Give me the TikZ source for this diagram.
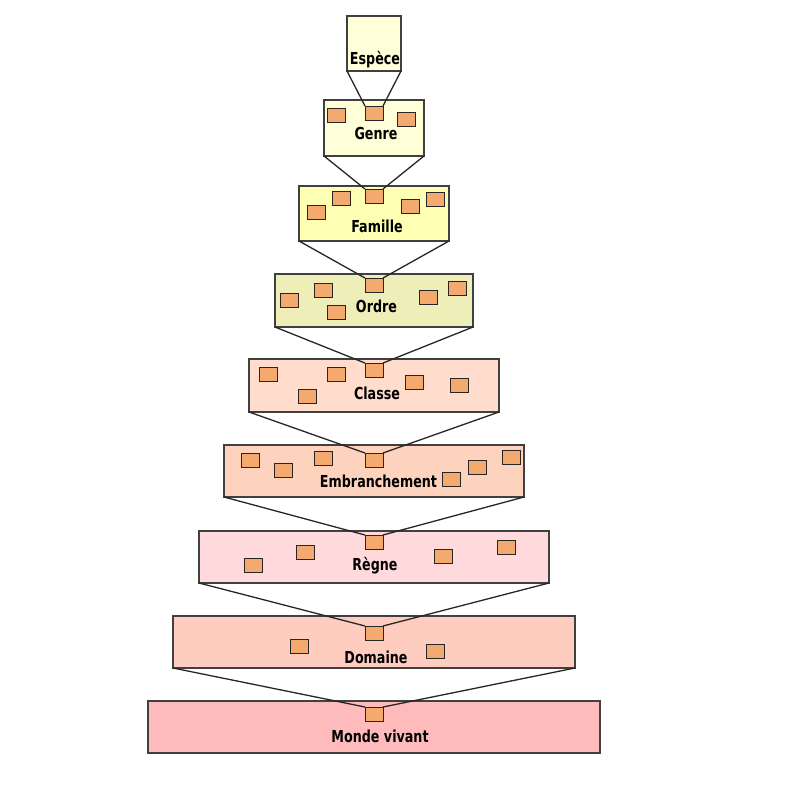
\documentclass[tikz,border=0pt]{standalone}
\usepackage{fontspec}
\setmainfont{DejaVu Sans}
\definecolor{cEspece}{HTML}{FFFFD8}
\definecolor{cGenre}{HTML}{FFFFD8}
\definecolor{cFamille}{HTML}{FFFFB3}
\definecolor{cOrdre}{HTML}{EEEEB8}
\definecolor{cClasse}{HTML}{FFDCCB}
\definecolor{cEmbr}{HTML}{FED3BE}
\definecolor{cRegne}{HTML}{FFD9DC}
\definecolor{cDomaine}{HTML}{FFCCC0}
\definecolor{cMonde}{HTML}{FFBBBB}
\definecolor{orangeTaxon}{HTML}{F4AA6E}

\begin{document}
\begin{tikzpicture}[x=1pt,y=-1pt]
    \tikzstyle{every node}=[inner sep=0pt,outer sep=0pt]
    \tikzstyle{rang}=[rectangle,draw=black!75,line width=1.2pt]
    \tikzstyle{taxon}=[rectangle,draw=black!85,line width=0.9pt,fill=orangeTaxon,minimum width=18pt,minimum height=14pt]
    \tikzstyle{nom}=[anchor=base,font=\bfseries\fontsize{12.7}{15}\selectfont]
    \tikzstyle{lien}=[draw=black!85,line width=1.3pt]
    \useasboundingbox (0,0) rectangle (800,800);
    \node[rang,fill=cEspece,minimum width=54pt,minimum height=55pt] (espece) at (374,43.5) {};
    \node[rang,fill=cGenre,minimum width=100pt,minimum height=56pt] (genre) at (374,128) {};
    \node[rang,fill=cFamille,minimum width=150pt,minimum height=55pt] (famille) at (374,213.5) {};
    \node[rang,fill=cOrdre,minimum width=198pt,minimum height=53pt] (ordre) at (374,300.5) {};
    \node[rang,fill=cClasse,minimum width=250pt,minimum height=53pt] (classe) at (374,385.5) {};
    \node[rang,fill=cEmbr,minimum width=300pt,minimum height=52pt] (embr) at (374,471) {};
    \node[rang,fill=cRegne,minimum width=350pt,minimum height=52pt] (regne) at (374,557) {};
    \node[rang,fill=cDomaine,minimum width=402pt,minimum height=52pt] (domaine) at (374,642) {};
    \node[rang,fill=cMonde,minimum width=452pt,minimum height=52pt] (monde) at (374,727) {};
    \node[taxon] (tGenre) at (374,113) {};
    \node[taxon] (tFamille) at (374,196) {};
    \node[taxon] (tOrdre) at (374,285) {};
    \node[taxon] (tClasse) at (374,370) {};
    \node[taxon] (tEmbr) at (374,460) {};
    \node[taxon] (tRegne) at (374,542) {};
    \node[taxon] (tDomaine) at (374,633) {};
    \node[taxon] (tMonde) at (374,714) {};
    \foreach \x/\y [count=\i] in {336/115,406/119,
        316/212,341/198,410/206,435/199,
        289/300,323/290,336/312,428/297,457/288,
        268/374,336/374,307/396,414/382,459/385,
        250/460,283/470,323/458,451/479,477/467,511/457,
        253/565,305/552,443/556,506/547,
        299/646,435/651}
        \node[taxon] (p\i) at (\x,\y) {};
    \draw[lien] (espece.south west) -- (tGenre.north west);
    \draw[lien] (espece.south east) -- (tGenre.north east);
    \draw[lien] (genre.south west) -- (tFamille.north west);
    \draw[lien] (genre.south east) -- (tFamille.north east);
    \draw[lien] (famille.south west) -- (tOrdre.north west);
    \draw[lien] (famille.south east) -- (tOrdre.north east);
    \draw[lien] (ordre.south west) -- (tClasse.north west);
    \draw[lien] (ordre.south east) -- (tClasse.north east);
    \draw[lien] (classe.south west) -- (tEmbr.north west);
    \draw[lien] (classe.south east) -- (tEmbr.north east);
    \draw[lien] (embr.south west) -- (tRegne.north west);
    \draw[lien] (embr.south east) -- (tRegne.north east);
    \draw[lien] (regne.south west) -- (tDomaine.north west);
    \draw[lien] (regne.south east) -- (tDomaine.north east);
    \draw[lien] (domaine.south west) -- (tMonde.north west);
    \draw[lien] (domaine.south east) -- (tMonde.north east);
    \node[nom] (lEspece) at (375,64) {\scalebox{1}[1.3]{Espèce}};
    \node[nom] (lGenre) at (376,139) {\scalebox{1}[1.3]{Genre}};
    \node[nom] (lFamille) at (377,232) {\scalebox{1}[1.3]{Famille}};
    \node[nom] (lOrdre) at (376.5,312) {\scalebox{1}[1.3]{Ordre}};
    \node[nom] (lClasse) at (377,399) {\scalebox{1}[1.3]{Classe}};
    \node[nom] (lEmbr) at (378.5,487) {\scalebox{1}[1.3]{Embranchement}};
    \node[nom] (lRegne) at (375,570) {\scalebox{1}[1.3]{Règne}};
    \node[nom] (lDomaine) at (376,663) {\scalebox{1}[1.3]{Domaine}};
    \node[nom] (lMonde) at (380,742) {\scalebox{1}[1.3]{Monde vivant}};
\end{tikzpicture}
\end{document}
